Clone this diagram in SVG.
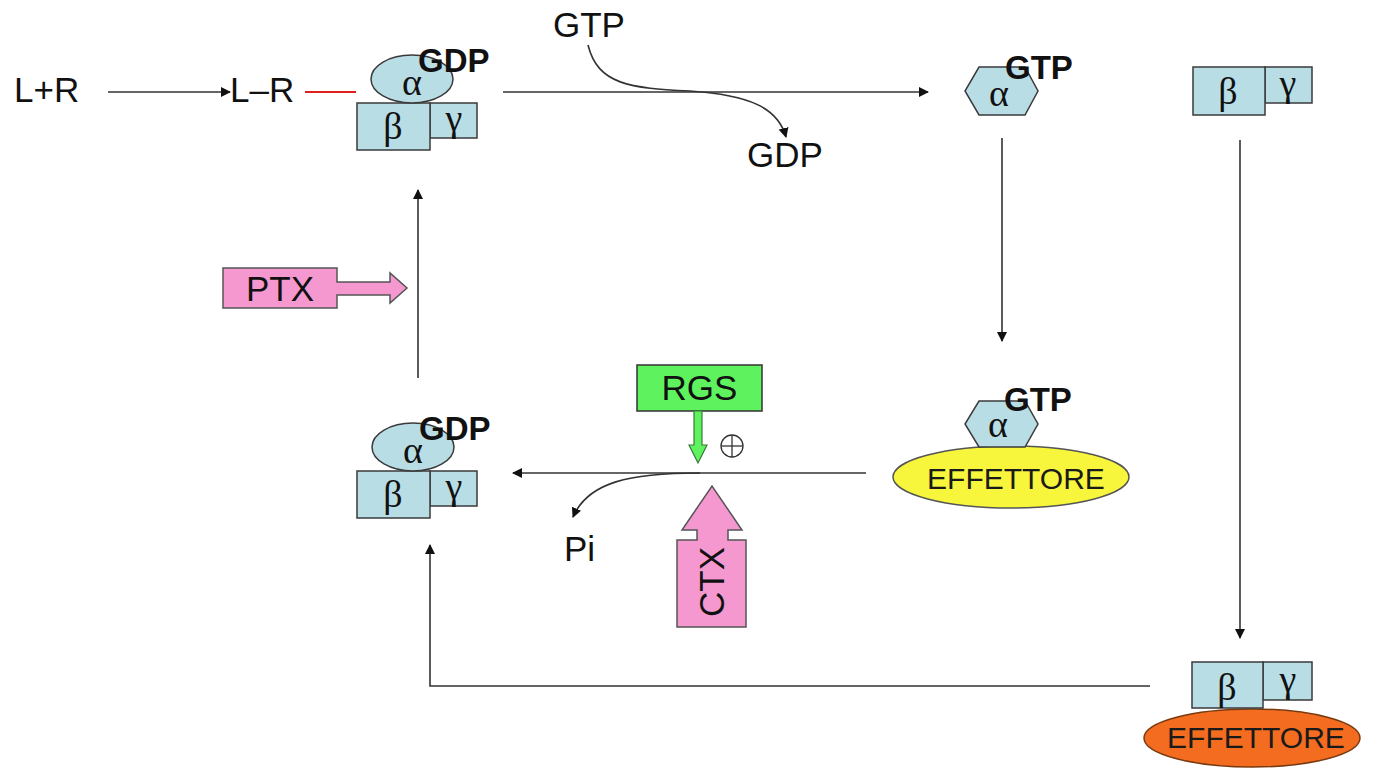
<svg xmlns="http://www.w3.org/2000/svg" width="1377" height="768" viewBox="0 0 1377 768">
  <defs>
    <marker id="arr" viewBox="0 0 10 10" refX="9" refY="5" markerWidth="10" markerHeight="10" markerUnits="userSpaceOnUse" orient="auto">
      <path d="M0,0 L10,5 L0,10 z" fill="#111"/>
    </marker>
    <style>
      .lbl { font-family: "Liberation Sans", Arial, sans-serif; font-size: 35px; fill: #111; }
      .bold { font-family: "Liberation Sans", Arial, sans-serif; font-size: 33px; font-weight: bold; fill: #111; }
      .greek { font-family: "Liberation Serif", "Times New Roman", serif; font-size: 38px; fill: #111; text-anchor: middle; }
      .sub { fill: #b9dde5; stroke: #3a3a3a; stroke-width: 1.5; }
      .con { fill: none; stroke: #333; stroke-width: 1.6; }
      .eff { font-family: "Liberation Sans", Arial, sans-serif; font-size: 30px; fill: #1a1a1a; text-anchor: middle; }
    </style>
  </defs>
  <rect width="1377" height="768" fill="#fff"/>

  <!-- connectors -->
  <g id="connectors">
    <line class="con" x1="108" y1="92" x2="230" y2="92" marker-end="url(#arr)"/>
    <line x1="305" y1="92" x2="356" y2="92" stroke="#e0201c" stroke-width="2.2"/>
    <line class="con" x1="503" y1="92" x2="928" y2="92" marker-end="url(#arr)"/>
    <path class="con" d="M588,45 C598,85 630,88 690,91 C750,95 778,108 786,137" marker-end="url(#arr)"/>
    <line class="con" x1="1002" y1="138" x2="1002" y2="341" marker-end="url(#arr)"/>
    <line class="con" x1="1240" y1="140" x2="1240" y2="638" marker-end="url(#arr)"/>
    <line class="con" x1="866" y1="473" x2="513" y2="473" marker-end="url(#arr)"/>
    <path class="con" d="M700,473 C630,473 588,482 573,517" marker-end="url(#arr)"/>
    <line class="con" x1="418" y1="378" x2="418" y2="190" marker-end="url(#arr)"/>
    <polyline class="con" points="1150,686 430,686 430,545" marker-end="url(#arr)"/>
  </g>

  <!-- ligand / receptor -->
  <g id="ligand-receptor">
    <text class="lbl" x="14" y="102">L+R</text>
    <text class="lbl" x="230" y="102">L–R</text>
  </g>

  <!-- heterotrimer bound to GDP, top -->
  <g id="trimer-top">
    <rect class="sub" x="430" y="103" width="47" height="35"/>
    <rect class="sub" x="357" y="103" width="73" height="47"/>
    <ellipse class="sub" cx="412" cy="79" rx="41" ry="24"/>
    <text class="greek" x="412" y="95">α</text>
    <text class="greek" x="393" y="139">β</text>
    <text class="greek" x="454" y="131">γ</text>
    <text class="bold" x="418" y="72">GDP</text>
  </g>

  <!-- GTP exchange -->
  <g id="gtp-exchange">
    <text class="lbl" x="553" y="37">GTP</text>
    <text class="lbl" x="747" y="167">GDP</text>
  </g>

  <!-- free alpha-GTP -->
  <g id="alpha-gtp">
    <polygon class="sub" points="979,67 1025,67 1038,91 1025,115 979,115 965,91"/>
    <text class="greek" x="999" y="106">α</text>
    <text class="bold" x="1005" y="79">GTP</text>
  </g>

  <!-- free beta-gamma -->
  <g id="beta-gamma">
    <rect class="sub" x="1265" y="67" width="47" height="36"/>
    <rect class="sub" x="1193" y="67" width="72" height="48"/>
    <text class="greek" x="1228" y="104">β</text>
    <text class="greek" x="1288" y="96">γ</text>
  </g>

  <!-- alpha-GTP on effector -->
  <g id="alpha-effector">
    <ellipse cx="1011" cy="477" rx="118" ry="31" fill="#f7f53c" stroke="#555" stroke-width="1.5"/>
    <text class="eff" x="1016" y="489">EFFETTORE</text>
    <polygon class="sub" points="979,401 1025,401 1038,424 1025,447 979,447 965,424"/>
    <text class="greek" x="998" y="437">α</text>
    <text class="bold" x="1004" y="411">GTP</text>
  </g>

  <!-- beta-gamma on effector -->
  <g id="betagamma-effector">
    <ellipse cx="1252" cy="738" rx="108" ry="29" fill="#f36c1f" stroke="#7a3a10" stroke-width="1.5"/>
    <text class="eff" x="1256" y="748" font-size="28" fill="#3a1505">EFFETTORE</text>
    <rect class="sub" x="1263" y="662" width="49" height="38"/>
    <rect class="sub" x="1192" y="662" width="71" height="46"/>
    <text class="greek" x="1227" y="700">β</text>
    <text class="greek" x="1288" y="692">γ</text>
  </g>

  <!-- heterotrimer bound to GDP, bottom -->
  <g id="trimer-bottom">
    <rect class="sub" x="430" y="471" width="47" height="35"/>
    <rect class="sub" x="357" y="471" width="73" height="47"/>
    <ellipse class="sub" cx="413" cy="447" rx="41" ry="24"/>
    <text class="greek" x="413" y="463">α</text>
    <text class="greek" x="393" y="507">β</text>
    <text class="greek" x="454" y="499">γ</text>
    <text class="bold" x="419" y="440">GDP</text>
  </g>

  <!-- GTP hydrolysis products -->
  <g id="pi">
    <text class="lbl" x="564" y="561">Pi</text>
  </g>

  <!-- RGS acceleration -->
  <g id="rgs">
    <rect x="637" y="365" width="125" height="46" fill="#5ef25e" stroke="#333" stroke-width="1.5"/>
    <text class="lbl" x="699.5" y="400" text-anchor="middle">RGS</text>
    <polygon points="694,411 702,411 702,445 707,445 698,463 689,445 694,445" fill="#5ef25e" stroke="#3a7a3a" stroke-width="1.2"/>
    <circle cx="732" cy="446" r="11" fill="none" stroke="#333" stroke-width="1.3"/>
    <line x1="721" y1="446" x2="743" y2="446" stroke="#333" stroke-width="1.3"/>
    <line x1="732" y1="435" x2="732" y2="457" stroke="#333" stroke-width="1.3"/>
  </g>

  <!-- cholera toxin -->
  <g id="ctx">
    <polygon points="677,540 697,540 697,530 682,530 712,486 742,530 728,530 728,540 746,540 746,627 677,627" fill="#f598cf" stroke="#555" stroke-width="1.5"/>
    <text class="lbl" transform="translate(724,582) rotate(-90)" text-anchor="middle">CTX</text>
  </g>

  <!-- pertussis toxin -->
  <g id="ptx">
    <polygon points="223,268 337,268 337,282 390,282 390,273 407,288 390,303 390,295 337,295 337,308 223,308" fill="#f598cf" stroke="#555" stroke-width="1.5"/>
    <text class="lbl" x="280" y="301" text-anchor="middle">PTX</text>
  </g>
</svg>
